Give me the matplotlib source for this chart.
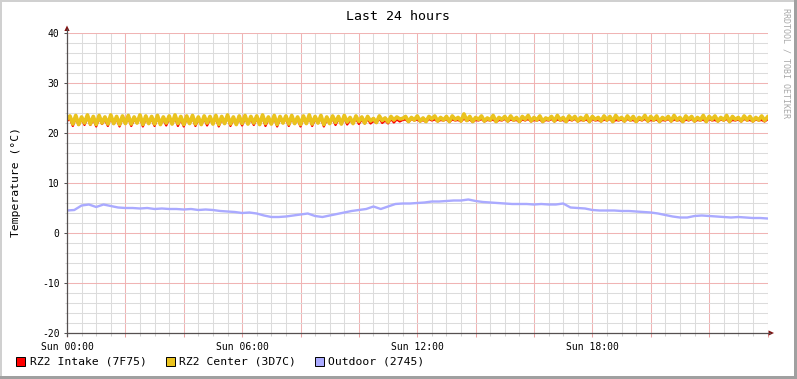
import numpy as np
import matplotlib
matplotlib.use("Agg")
import matplotlib.pyplot as plt
from matplotlib.lines import Line2D
from matplotlib.patches import Rectangle, Polygon
from matplotlib.ticker import MultipleLocator, FixedLocator, FuncFormatter

plt.rcParams["axes.unicode_minus"] = False

W, H = 797, 379
MONO = "DejaVu Sans Mono"

# ---------------- data ----------------
STEP_H = 0.1        # 6-minute samples for the server-room sensors
OUT_STEP_H = 0.25   # 15-minute samples for the outdoor sensor

intake = [
    22.4, 22.9, 21.4, 23.0, 21.6, 22.8, 21.6, 23.1, 21.6, 22.8, 21.3, 23.0, 21.8, 22.7, 21.4, 23.1, 21.8, 22.8, 21.3, 22.9,
    21.9, 23.0, 21.4, 22.7, 22.0, 23.1, 21.3, 22.9, 21.9, 22.8, 21.4, 23.0, 21.7, 22.7, 21.5, 22.9, 21.8, 23.1, 21.4, 22.8,
    21.3, 22.9, 21.9, 23.0, 21.4, 22.7, 21.7, 22.9, 21.5, 22.8, 21.8, 23.0, 21.3, 22.8, 21.9, 23.1, 21.4, 22.7, 21.7, 22.9,
    21.5, 23.0, 21.8, 22.8, 21.6, 22.9, 21.7, 23.1, 21.4, 22.7, 21.8, 23.0, 21.3, 22.8, 22.0, 22.9, 21.4, 23.0, 21.9, 22.7,
    21.3, 22.9, 21.9, 23.1, 21.4, 22.8, 22.0, 23.0, 21.3, 22.7, 21.9, 22.9, 21.6, 22.8, 21.8, 23.0, 21.7, 22.6, 21.9, 22.9,
    21.8, 22.7, 21.9, 22.8, 21.9, 22.4, 22.0, 22.9, 22.0, 22.5, 21.9, 22.8, 22.1, 22.7, 22.3,
    22.6, 22.7, 22.2, 22.8, 22.5, 22.7, 22.3, 22.6, 22.2, 22.8, 22.5, 22.7, 22.3, 22.6, 22.5, 22.8, 22.2, 22.7, 22.5, 22.6,
    22.3, 22.9, 22.4, 22.7, 22.2, 22.6, 22.5, 22.8, 22.3, 22.6, 22.5, 22.7, 22.2, 22.6, 22.5, 22.8, 22.3, 22.7, 22.5, 22.6,
    22.2, 22.7, 22.5, 22.8, 22.3, 22.6, 22.5, 22.7, 22.2, 22.6, 22.5, 22.8, 22.3, 22.7, 22.5, 22.6, 22.2, 22.7, 22.5, 22.8,
    22.3, 22.6, 22.5, 22.7, 22.2, 22.8, 22.5, 22.6, 22.3, 22.7, 22.5, 22.8, 22.2, 22.6, 22.5, 22.7, 22.3, 22.8, 22.5, 22.6,
    22.2, 22.7, 22.5, 22.8, 22.3, 22.6, 22.5, 22.7, 22.2, 22.6, 22.5, 22.8, 22.3, 22.7, 22.5, 22.6, 22.2, 22.7, 22.5, 22.8,
    22.3, 22.6, 22.5, 22.7, 22.2, 22.8, 22.5, 22.6, 22.3, 22.7, 22.5, 22.8, 22.2, 22.6, 22.5, 22.7, 22.3, 22.8, 22.5, 22.6,
    22.3, 22.7, 22.5, 22.6, 22.3, 22.7,
]

center = [
    22.8, 23.4, 21.8, 23.5, 21.7, 23.2, 22.0, 23.6, 21.8, 23.3, 21.7, 23.5, 22.0, 23.2, 21.8, 23.6, 21.9, 23.3, 21.7, 23.4,
    21.9, 23.5, 21.8, 23.2, 22.0, 23.6, 21.7, 23.4, 21.9, 23.3, 21.8, 23.5, 21.7, 23.2, 22.0, 23.4, 21.8, 23.6, 21.9, 23.3,
    21.7, 23.4, 21.9, 23.5, 21.8, 23.2, 21.7, 23.4, 22.0, 23.3, 21.8, 23.5, 21.7, 23.3, 21.9, 23.6, 21.8, 23.2, 21.7, 23.4,
    21.9, 23.5, 21.8, 23.3, 22.0, 23.4, 21.7, 23.6, 21.9, 23.2, 21.8, 23.5, 21.7, 23.3, 22.0, 23.4, 21.8, 23.5, 21.9, 23.2,
    21.7, 23.4, 21.9, 23.6, 21.8, 23.3, 22.0, 23.5, 21.7, 23.2, 21.9, 23.4, 22.1, 23.3, 21.8, 23.5, 22.2, 23.1, 21.9, 23.4,
    22.3, 23.2, 22.0, 23.3, 22.4, 22.9, 22.1, 23.4, 22.5, 23.0, 22.2, 23.3, 22.6, 23.2, 22.8,
    22.9, 23.3, 22.3, 23.1, 22.6, 23.4, 22.4, 23.0, 22.3, 23.3, 22.8, 23.4, 22.4, 23.1, 22.6, 23.3, 22.3, 23.4, 22.7, 23.1,
    22.4, 23.8, 22.5, 23.3, 22.3, 23.1, 22.7, 23.4, 22.4, 23.0, 22.6, 23.5, 22.3, 23.1, 22.7, 23.3, 22.4, 23.4, 22.6, 23.1,
    22.3, 23.3, 22.7, 23.5, 22.4, 23.1, 22.6, 23.4, 22.3, 23.0, 22.7, 23.3, 22.4, 23.5, 22.6, 23.1, 22.3, 23.4, 22.7, 23.3,
    22.4, 23.1, 22.6, 23.5, 22.3, 23.3, 22.7, 23.1, 22.4, 23.4, 22.6, 23.3, 22.3, 23.5, 22.7, 23.1, 22.4, 23.4, 22.6, 23.3,
    22.3, 23.1, 22.7, 23.5, 22.4, 23.3, 22.6, 23.4, 22.3, 23.1, 22.7, 23.3, 22.4, 23.5, 22.6, 23.1, 22.3, 23.4, 22.7, 23.3,
    22.4, 23.1, 22.6, 23.5, 22.3, 23.3, 22.7, 23.4, 22.4, 23.1, 22.6, 23.5, 22.3, 23.3, 22.7, 23.1, 22.4, 23.4, 22.6, 23.3,
    22.4, 23.1, 22.6, 23.4, 22.5, 23.2,
]

outdoor = [
    4.5, 4.6, 5.5, 5.7, 5.2, 5.7, 5.4, 5.1, 5.0, 5.0, 4.9, 5.0,
    4.8, 4.9, 4.8, 4.8, 4.7, 4.8, 4.6, 4.7, 4.6, 4.4, 4.3, 4.2,
    4.0, 4.1, 3.9, 3.5, 3.2, 3.2, 3.3, 3.5, 3.7, 3.9, 3.4, 3.2,
    3.5, 3.8, 4.1, 4.4, 4.6, 4.8, 5.3, 4.8, 5.3, 5.8, 5.9, 5.9,
    6.0, 6.1, 6.3, 6.3, 6.4, 6.5, 6.5, 6.7, 6.4, 6.2, 6.1, 6.0,
    5.9, 5.8, 5.8, 5.8, 5.7, 5.8, 5.7, 5.7, 5.9, 5.1, 5.0, 4.9,
    4.6, 4.5, 4.5, 4.5, 4.4, 4.4, 4.3, 4.2, 4.1, 3.9, 3.6, 3.3,
    3.1, 3.1, 3.4, 3.5, 3.4, 3.3, 3.2, 3.1, 3.2, 3.1, 3.0, 3.0,
    2.9,
]

series_names = ["RZ2 Intake (7F75)", "RZ2 Center (3D7C)", "Outdoor (2745)"]
series_colors = ["#FF0000", "#EAC31E", "#AAAAFF"]
x_label_hours = [0, 6, 12, 18]
x_labels = ["Sun 00:00", "Sun 06:00", "Sun 12:00", "Sun 18:00"]
y_ticks = [-20, -10, 0, 10, 20, 30, 40]
title = "Last 24 hours"
y_title = "Temperature (°C)"
watermark = "RRDTOOL / TOBI OETIKER"

# ---------------- figure ----------------
def fx(px):
    return px / W

def fy(py):
    return 1 - py / H

fig = plt.figure(figsize=(W / 100, H / 100), dpi=100, facecolor="white")

L, R, T, B = 67, 767.5, 33, 333
ax = fig.add_axes([fx(L), fy(B), (R - L) / W, (B - T) / H])
ax.set_facecolor("white")
ax.set_xlim(0, 24)
ax.set_ylim(-20, 40)
for s in ax.spines.values():
    s.set_visible(False)

# grid
ax.xaxis.set_major_locator(MultipleLocator(2))
ax.xaxis.set_minor_locator(MultipleLocator(0.5))
ax.yaxis.set_major_locator(FixedLocator(y_ticks))
ax.yaxis.set_minor_locator(MultipleLocator(2))
lab_map = dict(zip(x_label_hours, x_labels))
ax.xaxis.set_major_formatter(FuncFormatter(
    lambda v, p: lab_map.get(int(round(v)), "") if abs(v - round(v)) < 1e-6 else ""))
ax.grid(which="minor", color="#DCDCDC", linewidth=0.75)
ax.grid(which="major", color="#F0B4B4", linewidth=0.75)
ax.set_axisbelow(True)

ax.tick_params(axis="x", which="major", direction="out", length=3, width=0.75, color="#E8A0A0",
               pad=3.6, labelsize=7)
ax.tick_params(axis="x", which="minor", direction="out", length=2, width=0.75, color="#CFCFCF")
ax.tick_params(axis="y", which="major", direction="out", length=2, width=0.75, color="#555555",
               pad=3.4, labelsize=7)
ax.tick_params(axis="y", which="minor", direction="out", length=1.5, width=0.75, color="#CFCFCF")
for lab in ax.get_xticklabels() + ax.get_yticklabels():
    lab.set_fontfamily(MONO)

# data
t_fast = np.arange(len(center)) * STEP_H
t_int = np.arange(len(intake)) * STEP_H
t_out = np.arange(len(outdoor)) * OUT_STEP_H
ax.plot(t_int, intake, color=series_colors[0], linewidth=1.6, solid_joinstyle="round", zorder=3)
ax.plot(t_fast, center, color=series_colors[1], linewidth=2.7, solid_joinstyle="round", zorder=4)
ax.plot(t_out, outdoor, color=series_colors[2], linewidth=1.7, zorder=5)

# axes with arrows
axis_col = "#555050"
arrow_col = "#7F1010"
fig.add_artist(Line2D([fx(L), fx(770)], [fy(B), fy(B)], color=axis_col, linewidth=0.9))
fig.add_artist(Line2D([fx(L), fx(L)], [fy(B + 3), fy(29)], color=axis_col, linewidth=0.9))
fig.add_artist(Polygon([(fx(768.5), fy(B - 2.6)), (fx(774), fy(B)), (fx(768.5), fy(B + 2.6))],
                       closed=True, color=arrow_col, linewidth=0))
fig.add_artist(Polygon([(fx(L - 2.6), fy(31)), (fx(L), fy(25.5)), (fx(L + 2.6), fy(31))],
                       closed=True, color=arrow_col, linewidth=0))

# texts
fig.text(fx(397.5), fy(16), title, ha="center", va="center", fontsize=9.5, family=MONO, color="black")
fig.text(fx(16), fy(182), y_title, ha="center", va="center", rotation=90, fontsize=8.2, family=MONO)
fig.text(fx(786), fy(7.5), watermark, ha="center", va="top", rotation=270, fontsize=6, family=MONO,
         color="#A8A8A8")

# legend
legend_box_x = [16, 165.7, 314.7]
legend_text_x = [30, 179.3, 328.3]
for name, col, bx, tx in zip(series_names, series_colors, legend_box_x, legend_text_x):
    fig.add_artist(Rectangle((fx(bx), fy(365.7)), 9 / W, 9 / H, facecolor=col, edgecolor="black",
                             linewidth=0.7, transform=fig.transFigure))
    fig.text(fx(tx), fy(361.2), name, ha="left", va="center", fontsize=8.2, family=MONO)

# image border (shade)
fig.add_artist(Rectangle((0, 0), 2 / W, 1, facecolor="#D0D0D0", edgecolor="none", transform=fig.transFigure))
fig.add_artist(Rectangle((0, 1 - 2 / H), 1, 2 / H, facecolor="#D0D0D0", edgecolor="none", transform=fig.transFigure))
fig.add_artist(Rectangle((1 - 3 / W, 0), 3 / W, 1, facecolor="#A0A0A0", edgecolor="none", transform=fig.transFigure))
fig.add_artist(Rectangle((0, 0), 1, 3 / H, facecolor="#A0A0A0", edgecolor="none", transform=fig.transFigure))

fig.savefig("out.png", dpi=100, facecolor="white")
